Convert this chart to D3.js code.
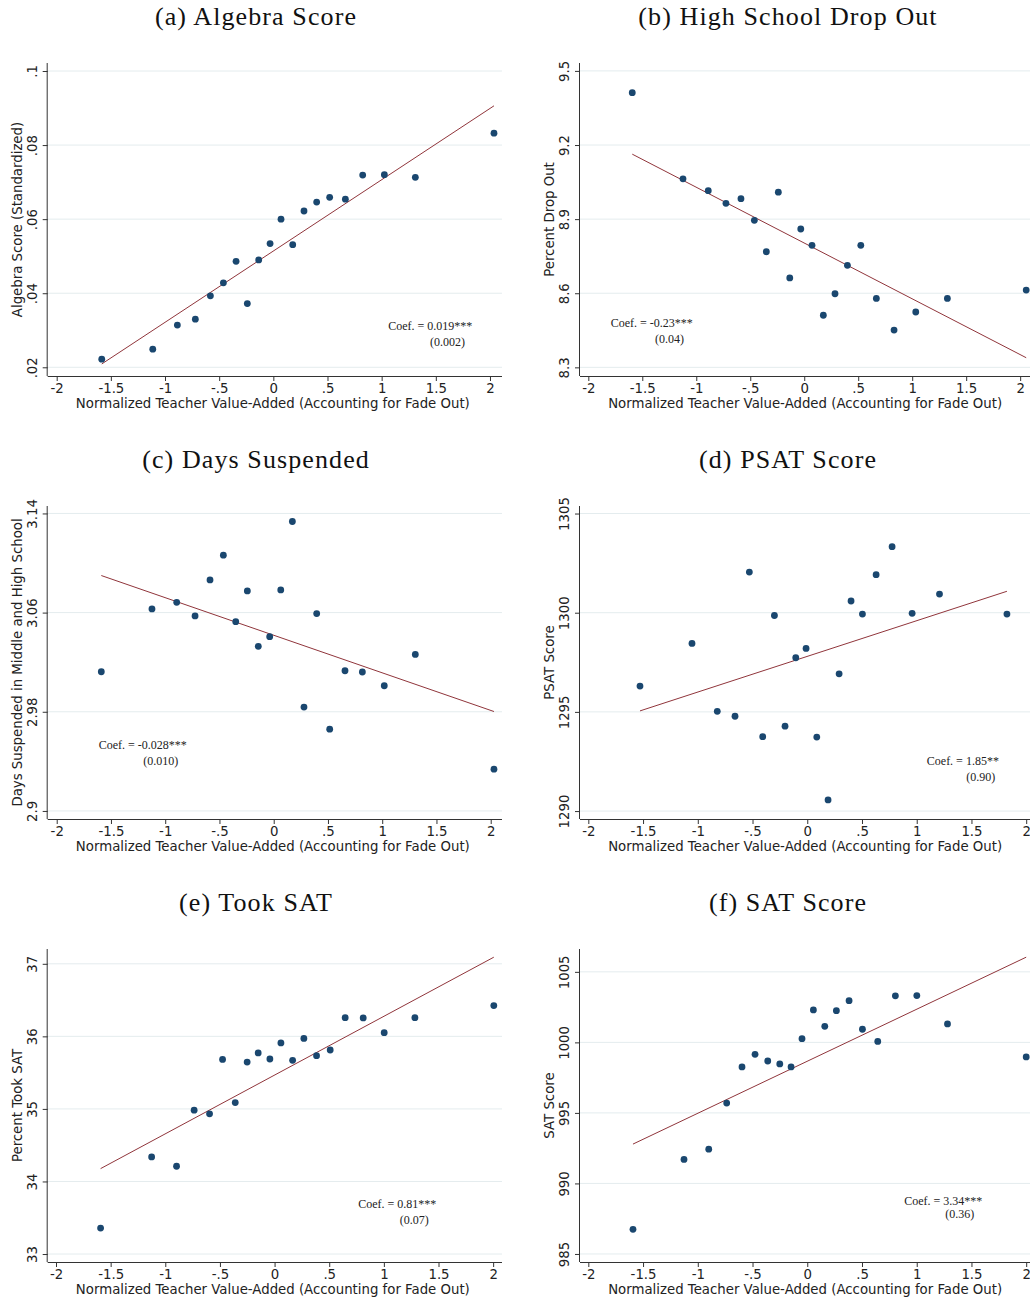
<!DOCTYPE html>
<html>
<head>
<meta charset="utf-8">
<script src="https://cdn.jsdelivr.net/npm/d3@7"></script>
<style>
    body { margin: 0; background: #fff; }
    #chart { width: 1030px; height: 1301px; overflow: hidden; }
    .title { font-family: "Liberation Serif", serif; font-size: 26px; letter-spacing: 1.1px; fill: #111; }
    .note { font-family: "Liberation Serif", serif; font-size: 12px; fill: #222; }
    .axis text { font-family: "DejaVu Sans", sans-serif; font-size: 13.3px; fill: #222; }
    .axis path, .axis line { stroke: #333; }
    .axis-title { font-family: "DejaVu Sans", sans-serif; font-size: 13.3px; fill: #222; }
</style>
</head>
<body>
<div id="chart"></div>
<script>

// x ticks shared by all panels
const xTicks = [-2, -1.5, -1, -0.5, 0, 0.5, 1, 1.5, 2];
const xTickLabels = ["-2", "-1.5", "-1", "-.5", "0", ".5", "1", "1.5", "2"];
const xTitle = "Normalized Teacher Value-Added (Accounting for Fade Out)";

// (a) Algebra score
const vaA = [-1.584, -1.113, -0.886, -0.72, -0.581, -0.461, -0.344, -0.24, -0.135, -0.03,
    0.071, 0.179, 0.283, 0.40, 0.52, 0.665, 0.825, 1.025, 1.311, 2.037];
const algebra = [0.0222, 0.0249, 0.0314, 0.0330, 0.0393, 0.0428, 0.0486, 0.0372, 0.0490, 0.0534,
    0.0600, 0.0531, 0.0622, 0.0646, 0.0659, 0.0654, 0.0719, 0.0720, 0.0713, 0.0832];
const fitA = [[-1.584, 0.0209], [2.037, 0.0906]];
const yTicksA = [0.02, 0.04, 0.06, 0.08, 0.1];
const yLabelsA = [".02", ".04", ".06", ".08", ".1"];

// (b) High school drop out
const vaB = [-1.593, -1.123, -0.889, -0.725, -0.586, -0.462, -0.351, -0.24, -0.134, -0.032,
    0.072, 0.177, 0.285, 0.40, 0.524, 0.668, 0.832, 1.033, 1.326, 2.056];
const dropOut = [9.412, 9.063, 9.015, 8.964, 8.983, 8.895, 8.768, 9.009, 8.662, 8.860,
    8.794, 8.511, 8.598, 8.713, 8.794, 8.579, 8.451, 8.524, 8.579, 8.613];
const fitB = [[-1.593, 9.163], [2.056, 8.339]];
const yTicksB = [8.3, 8.6, 8.9, 9.2, 9.5];
const yLabelsB = ["8.3", "8.6", "8.9", "9.2", "9.5"];

// (c) Days suspended
const vaC = [-1.589, -1.122, -0.894, -0.725, -0.587, -0.464, -0.35, -0.243, -0.142, -0.037,
    0.065, 0.172, 0.279, 0.396, 0.516, 0.657, 0.817, 1.019, 1.305, 2.03];
const suspended = [3.0123, 3.063, 3.0683, 3.0573, 3.0864, 3.1063, 3.0527, 3.0775, 3.0328, 3.0406,
    3.0783, 3.1335, 2.9838, 3.0592, 2.966, 3.0131, 3.0121, 3.001, 3.0263, 2.9337];
const fitC = [[-1.589, 3.0899], [2.03, 2.9802]];
const yTicksC = [2.9, 2.98, 3.06, 3.14];
const yLabelsC = ["2.9", "2.98", "3.06", "3.14"];

// (d) PSAT score
const vaD = [-1.528, -1.053, -0.822, -0.66, -0.529, -0.407, -0.30, -0.203, -0.105, -0.011,
    0.087, 0.19, 0.291, 0.40, 0.504, 0.629, 0.775, 0.958, 1.208, 1.824];
const psat = [1296.30, 1298.45, 1295.03, 1294.78, 1302.05, 1293.75, 1299.86, 1294.28, 1297.73, 1298.20,
    1293.73, 1290.56, 1296.92, 1300.59, 1299.93, 1301.92, 1303.33, 1299.97, 1300.94, 1299.93];
const fitD = [[-1.528, 1295.05], [1.824, 1301.08]];
const yTicksD = [1290, 1295, 1300, 1305];
const yLabelsD = ["1290", "1295", "1300", "1305"];

// (e) Took SAT
const vaE = [-1.592, -1.125, -0.897, -0.736, -0.595, -0.476, -0.36, -0.251, -0.15, -0.043,
    0.058, 0.165, 0.268, 0.384, 0.509, 0.646, 0.811, 1.003, 1.284, 2.006];
const tookSat = [33.358, 34.338, 34.21, 34.983, 34.932, 35.682, 35.088, 35.646, 35.771, 35.688,
    35.909, 35.669, 35.972, 35.734, 35.812, 36.258, 36.254, 36.051, 36.258, 36.424];
const fitE = [[-1.592, 34.177], [2.006, 37.091]];
const yTicksE = [33, 34, 35, 36, 37];
const yLabelsE = ["33", "34", "35", "36", "37"];

// (f) SAT score
const vaF = [-1.592, -1.126, -0.90, -0.736, -0.596, -0.477, -0.361, -0.251, -0.148, -0.048,
    0.056, 0.16, 0.266, 0.382, 0.504, 0.644, 0.805, 1.001, 1.281, 2.0];
const satScore = [986.75, 991.70, 992.43, 995.70, 998.26, 999.15, 998.68, 998.47, 998.26, 1000.26,
    1002.30, 1001.14, 1002.25, 1002.96, 1000.93, 1000.07, 1003.30, 1003.32, 1001.31, 998.97];
const fitF = [[-1.592, 992.79], [2.0, 1006.04]];
const yTicksF = [985, 990, 995, 1000, 1005];
const yLabelsF = ["985", "990", "995", "1000", "1005"];

const panels = [
    {title: "(a) Algebra Score", yTitle: "Algebra Score (Standardized)", x: vaA, y: algebra, fit: fitA,
        yTicks: yTicksA, yLabels: yLabelsA, xDom: [-2.083, 2.111], yDom: [0.01765, 0.10216],
        note: ["Coef. = 0.019***", "(0.002)"], noteAt: [1.06, 0.0312], note2X: 1.447, gap: 16},
    {title: "(b) High School Drop Out", yTitle: "Percent Drop Out", x: vaB, y: dropOut, fit: fitB,
        yTicks: yTicksB, yLabels: yLabelsB, xDom: [-2.077, 2.131], yDom: [8.265, 9.532],
        note: ["Coef. = -0.23***", "(0.04)"], noteAt: [-1.793, 8.479], note2X: -1.383, gap: 16},
    {title: "(c) Days Suspended", yTitle: "Days Suspended in Middle and High School", x: vaC, y: suspended, fit: fitC,
        yTicks: yTicksC, yLabels: yLabelsC, xDom: [-2.083, 2.104], yDom: [2.8935, 3.146],
        note: ["Coef. = -0.028***", "(0.010)"], noteAt: [-1.613, 2.9536], note2X: -1.202, gap: 16},
    {title: "(d) PSAT Score", yTitle: "PSAT Score", x: vaD, y: psat, fit: fitD,
        yTicks: yTicksD, yLabels: yLabelsD, xDom: [-2.076, 2.074], yDom: [1289.6, 1305.38],
        note: ["Coef. = 1.85**", "(0.90)"], noteAt: [1.092, 1292.53], note2X: 1.452, gap: 16},
    {title: "(e) Took SAT", yTitle: "Percent Took SAT", x: vaE, y: tookSat, fit: fitE,
        yTicks: yTicksE, yLabels: yLabelsE, xDom: [-2.076, 2.081], yDom: [32.89, 37.204],
        note: ["Coef. = 0.81***", "(0.07)"], noteAt: [0.765, 33.689], note2X: 1.146, gap: 16},
    {title: "(f) SAT Score", yTitle: "SAT Score", x: vaF, y: satScore, fit: fitF,
        yTicks: yTicksF, yLabels: yLabelsF, xDom: [-2.076, 2.074], yDom: [984.43, 1006.62],
        note: ["Coef. = 3.34***", "(0.36)"], noteAt: [0.885, 988.78], note2X: 1.26, gap: 13.5}
];

// layout
const colLeft = [47.7, 580];
const plotW = 454.3;
const plotH = 313;
const rowTop = 63;
const rowStep = 443;
const titleCenter = [256, 788];

const navy = "#1a476f";
const maroon = "#90353b";
const gridColor = "#e4ecee";

const svg = d3.select("#chart").append("svg")
    .attr("width", 1030)
    .attr("height", 1301);

svg.append("rect").attr("width", 1030).attr("height", 1301).attr("fill", "#fff");

panels.forEach(function(p, i) {
    let col = i % 2;
    let row = Math.floor(i / 2);
    let left = colLeft[col];
    let top = rowTop + row * rowStep;

    // title
    svg.append("text")
        .attr("class", "title")
        .attr("x", titleCenter[col])
        .attr("y", 25 + row * rowStep)
        .attr("text-anchor", "middle")
        .text(p.title);

    let g = svg.append("g").attr("transform", `translate(${left}, ${top})`);

    let x = d3.scaleLinear().domain(p.xDom).range([0, plotW]);
    let y = d3.scaleLinear().domain(p.yDom).range([plotH, 0]);

    // grid
    g.selectAll(".grid")
        .data(p.yTicks)
        .enter()
        .append("line")
        .attr("x1", 0).attr("x2", plotW)
        .attr("y1", d => y(d)).attr("y2", d => y(d))
        .attr("stroke", gridColor)
        .attr("stroke-width", 1);

    // fit line
    g.append("line")
        .attr("x1", x(p.fit[0][0])).attr("y1", y(p.fit[0][1]))
        .attr("x2", x(p.fit[1][0])).attr("y2", y(p.fit[1][1]))
        .attr("stroke", maroon)
        .attr("stroke-width", 1);

    // dots
    g.selectAll(".dot")
        .data(p.x.map((d, j) => [d, p.y[j]]))
        .enter()
        .append("circle")
        .attr("cx", d => x(d[0]))
        .attr("cy", d => y(d[1]))
        .attr("r", 3.4)
        .attr("fill", navy);

    // axes
    let xAxis = g.append("g")
        .attr("class", "axis")
        .attr("transform", `translate(0, ${plotH})`)
        .call(d3.axisBottom(x).tickValues(xTicks).tickFormat((d, j) => xTickLabels[j])
            .tickSize(5).tickSizeOuter(0));
    xAxis.select(".domain").attr("d", `M0,0.5H${plotW}`);

    let yAxis = g.append("g")
        .attr("class", "axis")
        .call(d3.axisLeft(y).tickValues(p.yTicks).tickFormat((d, j) => p.yLabels[j])
            .tickSize(5).tickSizeOuter(0));
    yAxis.select(".domain").attr("d", `M-0.5,0V${plotH}`);
    yAxis.selectAll(".tick text")
        .attr("transform", "rotate(-90)")
        .attr("x", 0)
        .attr("y", -11)
        .attr("dy", 0)
        .style("text-anchor", "middle");

    // axis titles
    g.append("text")
        .attr("class", "axis-title")
        .attr("x", plotW / 2 - 2)
        .attr("y", plotH + 32)
        .attr("text-anchor", "middle")
        .text(xTitle);

    g.append("text")
        .attr("class", "axis-title")
        .attr("transform", `translate(-26, ${plotH / 2}) rotate(-90)`)
        .attr("text-anchor", "middle")
        .text(p.yTitle);

    // coefficient note
    g.append("text")
        .attr("class", "note")
        .attr("x", x(p.noteAt[0]))
        .attr("y", y(p.noteAt[1]))
        .attr("dy", "0.35em")
        .text(p.note[0]);
    g.append("text")
        .attr("class", "note")
        .attr("x", x(p.note2X))
        .attr("y", y(p.noteAt[1]) + p.gap)
        .attr("dy", "0.35em")
        .text(p.note[1]);
});

</script>
</body>
</html>
